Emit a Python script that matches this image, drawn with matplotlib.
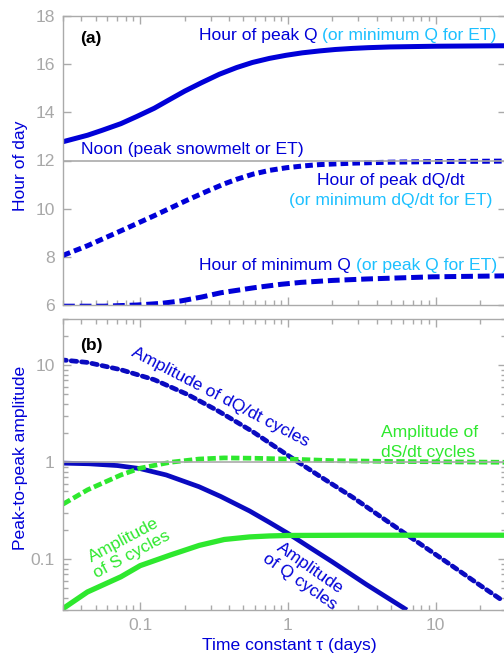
import matplotlib
matplotlib.use("Agg")
import matplotlib.pyplot as plt
from matplotlib.ticker import LogLocator, FixedLocator, FixedFormatter, NullFormatter

plt.rcParams['font.family'] = ['Liberation Sans', 'DejaVu Sans']
plt.rcParams['lines.scale_dashes'] = False

# ---------------- data ----------------
# Panel (a): hour of day vs time constant tau (days)
tau_peakQ = [0.03, 0.044, 0.055, 0.074, 0.095, 0.1245, 0.155, 0.2, 0.26, 0.343, 0.45,
             0.575, 0.75, 0.975, 1.25, 1.64, 2.1, 2.75, 3.5, 4.9, 10, 30]
hour_peakQ = [12.78, 13.05, 13.25, 13.53, 13.83, 14.17, 14.50, 14.88, 15.23, 15.58, 15.86,
              16.07, 16.24, 16.37, 16.47, 16.55, 16.61, 16.655, 16.685, 16.715, 16.745, 16.765]

tau_peakdQ = [0.03, 0.0439, 0.074, 0.1245, 0.209, 0.29, 0.371, 0.45, 0.578, 0.75, 0.977,
              1.3, 1.64, 2.75, 4.9, 10, 30]
hour_peakdQ = [8.06, 8.46, 9.08, 9.71, 10.36, 10.75, 11.03, 11.22, 11.43, 11.59, 11.70,
               11.78, 11.83, 11.89, 11.93, 11.955, 11.975]

tau_minQ = [0.03, 0.057, 0.0954, 0.14, 0.189, 0.26, 0.353, 0.595, 0.9, 1.23, 2.0, 3.4, 9.5, 30]
hour_minQ = [5.95, 5.95, 6.0, 6.07, 6.17, 6.33, 6.51, 6.72, 6.86, 6.94, 7.02, 7.08, 7.17, 7.21]

noon = 12

# Panel (b): peak-to-peak amplitude vs tau
tau_ampdQ = [0.029, 0.0439, 0.074, 0.1245, 0.2094, 0.335, 0.578, 0.975, 1.64, 2.76, 4.65,
             6.43, 11.9, 20.0, 28.8]
amp_dQ = [11.4, 10.7, 9.0, 7.1, 5.0, 3.4, 2.07, 1.21, 0.72, 0.434, 0.25,
          0.178, 0.0935, 0.054, 0.037]

tau_ampQ = [0.03, 0.045, 0.07, 0.1, 0.15, 0.25, 0.35, 0.55, 0.75, 1.0, 1.4, 2.0, 3.4, 6.4]
amp_Q = [0.98, 0.965, 0.925, 0.86, 0.74, 0.56, 0.445, 0.315, 0.24, 0.185, 0.133, 0.094, 0.055, 0.030]

tau_ampS = [0.03, 0.0439, 0.074, 0.1, 0.161, 0.251, 0.371, 0.55, 0.75, 1.0, 3.0, 30]
amp_S = [0.031, 0.046, 0.066, 0.086, 0.111, 0.139, 0.160, 0.170, 0.174, 0.176, 0.177, 0.177]

tau_ampdS = [0.03, 0.044, 0.074, 0.1, 0.16, 0.25, 0.37, 0.6, 1.0, 2.0, 5.0, 30]
amp_dS = [0.37, 0.52, 0.74, 0.87, 1.0, 1.08, 1.11, 1.10, 1.08, 1.04, 1.02, 1.0]

unity = 1

xticks = [0.1, 1, 10]
xticklabels = ['0.1', '1', '10']
yticks_a = [6, 8, 10, 12, 14, 16, 18]
yticks_b = [0.1, 1, 10]
yticklabels_b = ['0.1', '1', '10']

# ---------------- style ----------------
BLUE = '#0000d8'
BLUE_B = '#0a0ac0'
CYAN = '#1cc0ff'
GREEN = '#2ee82e'
GRAY = '#aaaaaa'
TICKLAB = '#a8a8a8'
FS = 12.6

W, H = 504, 660
fig = plt.figure(figsize=(W / 100, H / 100), dpi=100)

L, R = 63, 506
ax1 = fig.add_axes([L / W, 1 - 305 / H, (R - L) / W, (305 - 16) / H])
ax2 = fig.add_axes([L / W, 1 - 610 / H, (R - L) / W, (610 - 319) / H])

for ax in (ax1, ax2):
    ax.set_xscale('log')
    ax.set_xlim(0.03, 30)
    for sp in ax.spines.values():
        sp.set_color(GRAY)
        sp.set_linewidth(1.0)
    ax.tick_params(which='both', direction='in', top=True, right=True,
                   colors=GRAY, labelcolor=TICKLAB, labelsize=FS, width=1.0)
    ax.tick_params(which='major', length=6, pad=6)
    ax.tick_params(which='minor', length=3.5)
    ax.xaxis.set_major_locator(FixedLocator(xticks))
    ax.xaxis.set_minor_locator(LogLocator(base=10, subs=range(2, 10)))
    ax.xaxis.set_minor_formatter(NullFormatter())

# ---- panel (a)
ax1.set_ylim(6, 18)
ax1.yaxis.set_major_locator(FixedLocator(yticks_a))
ax1.set_xticklabels([])
ax1.axhline(noon, color=GRAY, lw=1.2, zorder=3)
ax1.plot(tau_peakQ, hour_peakQ, color=BLUE, lw=3.6, solid_capstyle='butt', zorder=2)
ax1.plot(tau_peakdQ, hour_peakdQ, color=BLUE, lw=3.6, dashes=(5.5, 3.0),
         dash_capstyle='butt', zorder=2)
ax1.plot(tau_minQ, hour_minQ, color=BLUE, lw=3.6, dashes=(8.5, 3.5),
         dash_capstyle='butt', zorder=2)
ax1.set_ylabel('Hour of day', color=BLUE, fontsize=FS)
ax1.yaxis.set_label_coords(-0.079, 0.481)


def px_text(ax, axtop, axbot, px, py, s, **kw):
    fx = (px - L) / (R - L)
    fy = (axbot - py) / (axbot - axtop)
    return ax.text(fx, fy, s, transform=ax.transAxes, fontsize=FS, **kw)


px_text(ax1, 16, 305, 80, 43.5, '(a)', color='black', fontweight='bold', va='baseline')
t1 = px_text(ax1, 16, 305, 199, 40, 'Hour of peak Q ', color=BLUE, va='baseline')
px_text(ax1, 16, 305, 81, 154, 'Noon (peak snowmelt or ET)', color=BLUE, va='baseline')
px_text(ax1, 16, 305, 317, 185, 'Hour of peak dQ/dt', color=BLUE, va='baseline')
px_text(ax1, 16, 305, 289, 205, '(or minimum dQ/dt for ET)', color=CYAN, va='baseline')
t3 = px_text(ax1, 16, 305, 199, 270, 'Hour of minimum Q ', color=BLUE, va='baseline')

# ---- panel (b)
ax2.set_yscale('log')
ax2.set_ylim(0.03, 30)
ax2.yaxis.set_major_locator(FixedLocator(yticks_b))
ax2.yaxis.set_major_formatter(FixedFormatter(yticklabels_b))
ax2.yaxis.set_minor_locator(LogLocator(base=10, subs=range(2, 10)))
ax2.yaxis.set_minor_formatter(NullFormatter())
ax2.xaxis.set_major_formatter(FixedFormatter(xticklabels))
ax2.axhline(unity, color=GRAY, lw=1.2, zorder=3)
ax2.plot(tau_ampdQ, amp_dQ, color=BLUE_B, lw=3.4, dashes=(4.0, 3.5),
         dash_capstyle='round', zorder=2)
ax2.plot(tau_ampQ, amp_Q, color=BLUE_B, lw=3.4, solid_capstyle='butt', zorder=2)
ax2.plot(tau_ampS, amp_S, color=GREEN, lw=3.8, solid_capstyle='butt', zorder=2)
ax2.plot(tau_ampdS, amp_dS, color=GREEN, lw=3.4, dashes=(6.0, 2.5),
         dash_capstyle='butt', zorder=2)
ax2.set_ylabel('Peak-to-peak amplitude', color=BLUE, fontsize=FS)
ax2.yaxis.set_label_coords(-0.079, 0.522)
ax2.set_xlabel('Time constant τ (days)', color=BLUE, fontsize=FS)
ax2.xaxis.set_label_coords(0.51, -0.097)

px_text(ax2, 319, 610, 80, 350, '(b)', color='black', fontweight='bold', va='baseline')
px_text(ax2, 319, 610, 220, 397, 'Amplitude of dQ/dt cycles', color=BLUE,
        rotation=-27.5, ha='center', va='center', rotation_mode='anchor')
px_text(ax2, 319, 610, 381, 436.7, 'Amplitude of', color=GREEN, va='baseline')
px_text(ax2, 319, 610, 381, 456.7, 'dS/dt cycles', color=GREEN, va='baseline')
px_text(ax2, 319, 610, 128, 547.5, 'Amplitude\nof S cycles', color=GREEN,
        rotation=28, ha='center', va='center', rotation_mode='anchor',
        multialignment='center', linespacing=1.15)
px_text(ax2, 319, 610, 305, 575, 'Amplitude\nof Q cycles', color=BLUE,
        rotation=-35, ha='center', va='center', rotation_mode='anchor',
        multialignment='center', linespacing=1.15)

# attach the cyan continuations right after the blue text pieces
fig.canvas.draw()
renderer = fig.canvas.get_renderer()
for tb, s in ((t1, '(or minimum Q for ET)'), (t3, '(or peak Q for ET)')):
    bb = tb.get_window_extent(renderer)
    x0_ax = ax1.transAxes.inverted().transform((bb.x1, 0))[0]
    pos = tb.get_position()
    ax1.text(x0_ax, pos[1], s, transform=ax1.transAxes, fontsize=FS,
             color=CYAN, va='baseline')

fig.savefig('out.png', dpi=100)
